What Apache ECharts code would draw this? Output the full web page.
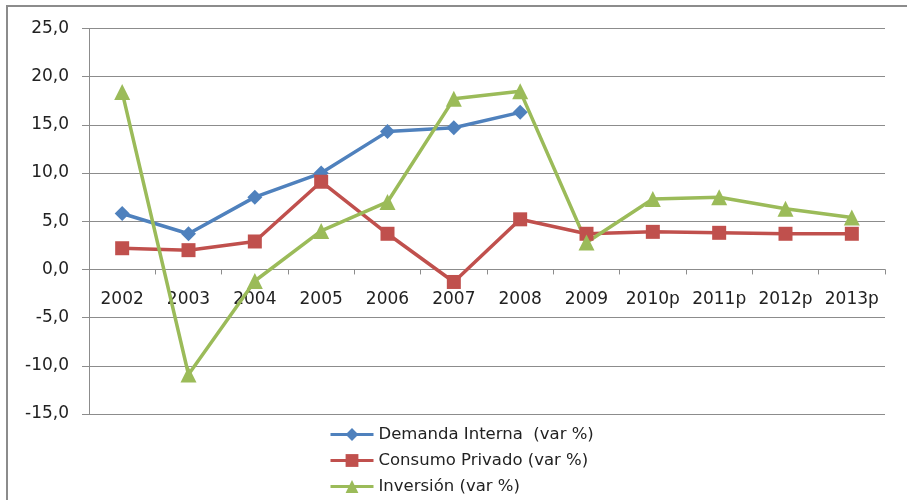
<!DOCTYPE html>
<html>
<head>
<meta charset="utf-8">
<script src="https://cdn.jsdelivr.net/npm/echarts@6/dist/echarts.min.js"></script>
<style>
  html, body { margin: 0; padding: 0; background: #fff; }
  #chart { width: 907px; height: 500px; }
</style>
</head>
<body>
<div id="chart"></div>
<script>
// Years on the category axis (p = projected)
const years = ['2002', '2003', '2004', '2005', '2006', '2007', '2008', '2009', '2010p', '2011p', '2012p', '2013p'];

// Annual variation (%) for each aggregate
const demandaInterna = [5.8, 3.7, 7.5, 10.0, 14.3, 14.7, 16.3, null, null, null, null, null];
const consumoPrivado = [2.2, 2.0, 2.9, 9.1, 3.7, -1.3, 5.2, 3.7, 3.9, 3.8, 3.7, 3.7];
const inversion = [18.4, -10.9, -1.2, 4.0, 7.0, 17.7, 18.5, 2.8, 7.3, 7.5, 6.3, 5.4];

// Value axis ticks
const yMin = -15, yMax = 25, yStep = 5;

const seriesNames = ['Demanda Interna  (var %)', 'Consumo Privado (var %)', 'Inversión (var %)'];

const font = 'DejaVu Sans';
const gridTop = 28.5, gridBottom = 86, chartH = 500;
const plotH = chartH - gridTop - gridBottom;
// distance from the bottom of the plot to the zero line
const zeroOffset = plotH * (0 - yMin) / (yMax - yMin);

const chart = echarts.init(document.getElementById('chart'), null, { renderer: 'canvas' });

function lineSeries(name, data, color, symbol, size) {
  return {
    name: name,
    type: 'line',
    data: data,
    symbol: symbol,
    symbolSize: size,
    showAllSymbol: true,
    connectNulls: false,
    lineStyle: { color: color, width: 3.5 },
    itemStyle: { color: color },
    emphasis: { disabled: true },
    z: 3
  };
}

chart.setOption({
  animation: false,
  textStyle: { fontFamily: font },
  graphic: [{
    type: 'rect',
    shape: { x: 7, y: 6, width: 960, height: 560 },
    style: { fill: 'none', stroke: '#8c8c8c', lineWidth: 2 },
    silent: true
  }],
  grid: { left: 89, right: 22, top: gridTop, bottom: gridBottom },
  legend: {
    orient: 'vertical',
    left: 329,
    top: 426,
    height: 80,
    padding: 0,
    itemWidth: 43,
    itemHeight: 16,
    itemGap: 9,
    lineStyle: { width: 3 },
    textStyle: { fontFamily: font, fontSize: 16.5, color: '#222' },
    data: seriesNames
  },
  xAxis: {
    type: 'category',
    data: years,
    boundaryGap: true,
    position: 'bottom',
    offset: -zeroOffset,
    axisLine: { onZero: false, lineStyle: { color: '#8c8c8c', width: 1 } },
    axisTick: { show: true, length: 5, lineStyle: { color: '#8c8c8c' } },
    axisLabel: { margin: 22, fontFamily: font, fontSize: 17, color: '#222', interval: 0 },
    splitLine: { show: false }
  },
  yAxis: {
    type: 'value',
    min: yMin,
    max: yMax,
    interval: yStep,
    axisLine: { show: true, lineStyle: { color: '#8c8c8c', width: 1 } },
    axisTick: { show: true, length: 7, lineStyle: { color: '#8c8c8c' } },
    axisLabel: {
      margin: 20,
      fontFamily: font,
      fontSize: 17,
      color: '#222',
      formatter: v => v.toFixed(1).replace('.', ',')
    },
    splitLine: { show: true, lineStyle: { color: '#8c8c8c', width: 1 } }
  },
  series: [
    lineSeries(seriesNames[0], demandaInterna, '#4F81BD', 'diamond', 15),
    lineSeries(seriesNames[1], consumoPrivado, '#C0504D', 'rect', 14),
    lineSeries(seriesNames[2], inversion, '#9BBB59', 'triangle', 16)
  ]
});
</script>
</body>
</html>
